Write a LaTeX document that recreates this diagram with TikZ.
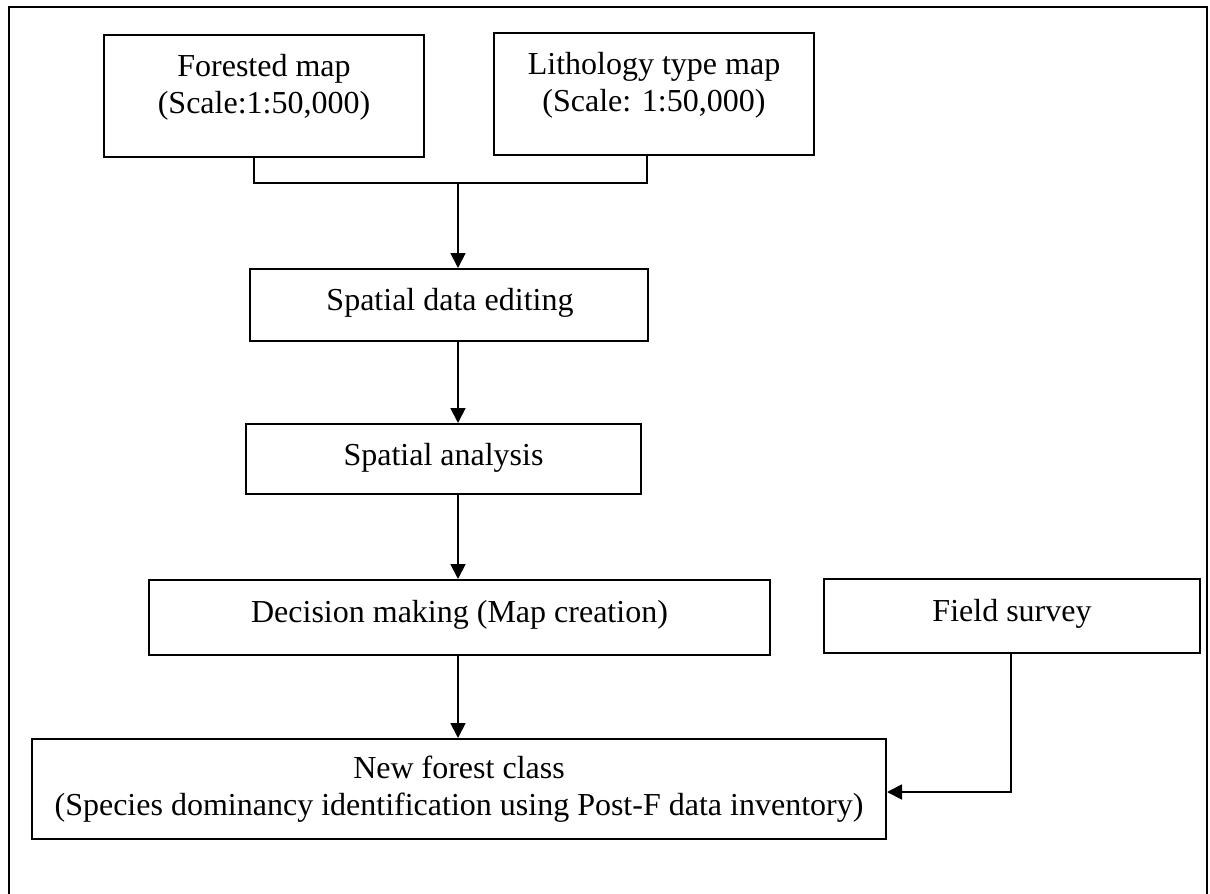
\documentclass[tikz,border=0pt]{standalone}
\usepackage{fontspec}
\setmainfont{Liberation Serif}
\usetikzlibrary{arrows.meta}
\begin{document}
\begin{tikzpicture}[x=1pt,y=-1pt,
  box/.style={draw, line width=2pt, inner sep=0pt},
  txt/.style={inner sep=0pt, anchor=base, font=\fontsize{32}{37}\selectfont},
  conn/.style={line width=1.8pt},
  arr/.style={conn, -{Triangle[length=15pt,width=15pt]}}]
\useasboundingbox (0,0) rectangle (1210,894);
% outer frame
\draw[line width=2pt] (9,894) -- (9,7) -- (1207,7) -- (1207,894);
% boxes
\node[box, minimum width=320pt, minimum height=122pt] (forest) at (264,96) {};
\node[box, minimum width=320pt, minimum height=122pt] (litho) at (654,94) {};
\node[box, minimum width=398pt, minimum height=72pt] (edit) at (449,305) {};
\node[box, minimum width=395pt, minimum height=70pt] (anal) at (443.5,459) {};
\node[box, minimum width=621pt, minimum height=75pt] (dec) at (459.5,617.5) {};
\node[box, minimum width=376pt, minimum height=74pt] (field) at (1012,616) {};
\node[box, minimum width=854pt, minimum height=100pt] (newf) at (459,789) {};
% texts
\node[txt] (forestA) at (264,76) {Forested map};
\node[txt] (forestB) at (264,113) {(Scale:1:50,000)};
\node[txt] (lithoA) at (654,74) {Lithology type map};
\node[txt] (lithoB) at (654,111) {(Scale: 1:50,000)};
\node[txt] (editT) at (450,310) {Spatial data editing};
\node[txt] (analT) at (443.5,465) {Spatial analysis};
\node[txt] (decT) at (459.5,622) {Decision making (Map creation)};
\node[txt] (fieldT) at (1012,621) {Field survey};
\node[txt] (newfA) at (459,778) {New forest class};
\node[txt] (newfB) at (459,815) {(Species dominancy identification using Post-F data inventory)};
% connectors
\coordinate (j) at (458,183);
\draw[conn] ([xshift=-10pt]forest.south) |- (j) -| ([xshift=-7pt]litho.south);
\draw[arr] (j) -- (edit.north -| j);
\draw[arr] (edit.south -| j) -- (anal.north -| j);
\draw[arr] (anal.south -| j) -- (dec.north -| j);
\draw[arr] (dec.south -| j) -- (newf.north -| j);
\draw[arr] ([xshift=-1pt]field.south) |- ([yshift=-3pt]newf.east);
\end{tikzpicture}
\end{document}
